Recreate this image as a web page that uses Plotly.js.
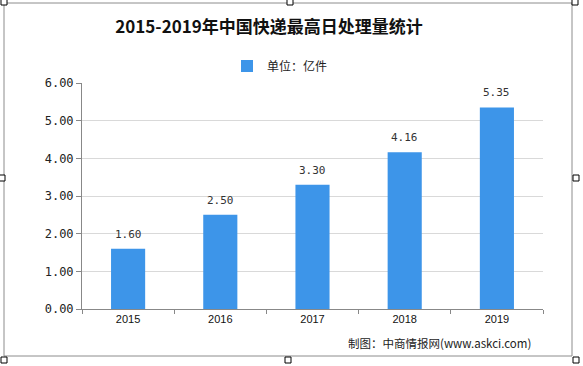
<!DOCTYPE html>
<html>
<head>
<meta charset="utf-8">
<script src="https://cdn.plot.ly/plotly-3.0.1.min.js"></script>
<style>html,body{margin:0;padding:0;background:#fff;}#chart{width:583px;height:366px;}</style>
</head>
<body>
<div id="chart"></div>
<script>
var years = ['2015', '2016', '2017', '2018', '2019'];
var values = [1.60, 2.50, 3.30, 4.16, 5.35];
var yTicks = [0, 1, 2, 3, 4, 5, 6];
var yTickLabels = ['0.00', '1.00', '2.00', '3.00', '4.00', '5.00', '6.00'];
var seriesName = '单位：亿件';
var titleText = '2015-2019年中国快递最高日处理量统计';
var sourceText = '制图：中商情报网(www.askci.com)';

var barColor = '#3d95e9';

var annotations = years.map(function (y, i) {
  return {
    x: i, y: values[i], xref: 'x', yref: 'y',
    text: values[i].toFixed(2), showarrow: false,
    yanchor: 'bottom', yshift: 6,
    font: {family: 'DejaVu Sans Mono, monospace', size: 11, color: '#333'}
  };
});
annotations.push({
  xref: 'paper', yref: 'paper', x: (533 - 82) / 461, y: -0.15, xanchor: 'right', yanchor: 'middle',
  text: sourceText, showarrow: false,
  font: {family: 'Noto Sans CJK SC, sans-serif', size: 11.5, color: '#222'}
});

var shapes = [
  {type: 'rect', xref: 'paper', yref: 'paper', x0: -78 / 461, x1: 1 + 29 / 461, y0: -47 / 226, y1: 1 + 80 / 226,
   line: {color: '#8c8c8c', width: 1}, layer: 'below'}
];
var handles = [[4, 2], [290, 2], [575, 2], [2, 178], [576, 178], [4, 360], [288, 360], [576, 360]];
handles.forEach(function (h) {
  var px = h[0], py = h[1];
  shapes.push({type: 'rect', xref: 'paper', yref: 'paper',
    x0: (px - 3 - 82) / 461, x1: (px + 3 - 82) / 461,
    y0: (309 - py - 3) / 226, y1: (309 - py + 3) / 226,
    line: {color: '#000', width: 1}, fillcolor: '#fff'});
});

var trace = {
  type: 'bar', x: years, y: values, name: seriesName,
  marker: {color: barColor}, showlegend: true, hoverinfo: 'none'
};

var layout = {
  width: 583, height: 366,
  margin: {l: 82, r: 40, t: 83, b: 57, pad: 0},
  paper_bgcolor: '#fff', plot_bgcolor: '#fff',
  title: {
    text: '<b>' + titleText + '</b>', x: 269 / 583, xanchor: 'center', y: 1 - 27 / 366, yanchor: 'middle',
    font: {family: 'Noto Sans CJK SC, serif', size: 17, color: '#111'}
  },
  showlegend: true,
  legend: {
    orientation: 'h', x: (280 - 82) / 461, xanchor: 'center', y: (309 - 66) / 226, yanchor: 'middle',
    font: {family: 'Noto Sans CJK SC, sans-serif', size: 12, color: '#222'},
    itemwidth: 30, bgcolor: 'rgba(0,0,0,0)'
  },
  bargap: 0.63,
  xaxis: {
    type: 'category', range: [-0.5, 4.5], showgrid: false, showline: true, linecolor: '#888', linewidth: 1,
    ticks: 'outside', tickson: 'boundaries', ticklen: 4, tickcolor: '#888',
    tickfont: {family: 'Liberation Sans, Arial, sans-serif', size: 11, color: '#111'},
    zeroline: false, fixedrange: true
  },
  yaxis: {
    range: [0, 6], tickvals: yTicks, ticktext: yTickLabels,
    showgrid: true, gridcolor: '#d9d9d9', gridwidth: 1,
    showline: true, linecolor: '#888', linewidth: 1,
    ticks: 'outside', ticklen: 5, tickcolor: '#888',
    tickfont: {family: 'DejaVu Sans Mono, monospace', size: 12, color: '#222'},
    zeroline: false, fixedrange: true
  },
  annotations: annotations,
  shapes: shapes
};

Plotly.newPlot('chart', [trace], layout, {staticPlot: true, displayModeBar: false});
</script>
</body>
</html>
